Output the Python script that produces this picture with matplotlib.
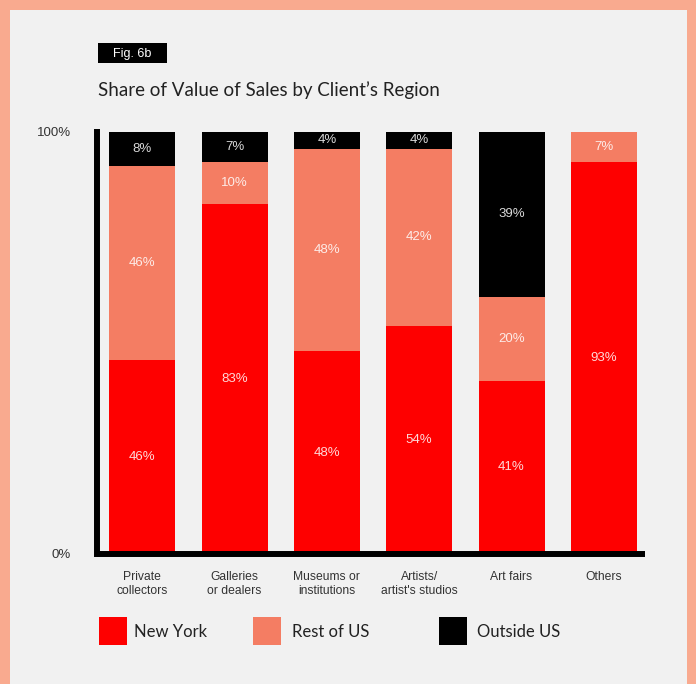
import matplotlib
matplotlib.use("Agg")
import matplotlib.pyplot as plt
from matplotlib.patches import Rectangle
import numpy as np

plt.rcParams['font.family'] = ['Lato', 'DejaVu Sans']

# data
categories = ["Private\ncollectors", "Galleries\nor dealers", "Museums or\ninstitutions",
              "Artists/\nartist's studios", "Art fairs", "Others"]
new_york = [46, 83, 48, 54, 41, 93]
rest_of_us = [46, 10, 48, 42, 20, 7]
outside_us = [8, 7, 4, 4, 39, 0]
series_names = ["New York", "Rest of US", "Outside US"]
colors = ['#FE0000', '#F47D63', '#000000']

W, H = 696, 684
fig = plt.figure(figsize=(W / 100, H / 100), dpi=100, facecolor='#F9AA8F')

# light panel behind everything
fig.patches.append(Rectangle((10 / W, 0), 677 / W, 1 - 10 / H, transform=fig.transFigure,
                             facecolor='#F1F1F1', edgecolor='none', zorder=-10))

ax = fig.add_axes([97 / W, 1 - 554 / H, (645 - 97) / W, (554 - 132) / H])
ax.set_facecolor('none')

x = np.arange(len(categories))
width = 0.715
bottom = np.zeros(len(categories))
for vals, col in zip([new_york, rest_of_us, outside_us], colors):
    vals = np.array(vals, dtype=float)
    ax.bar(x, vals, width, bottom=bottom, color=col, edgecolor='none', zorder=2)
    for xi, v, b in zip(x, vals, bottom):
        if v > 0:
            ax.text(xi, b + v / 2, f'{int(v)}%', ha='center', va='center',
                    color='white', alpha=0.85, fontsize=9.5,
                    family=['Liberation Sans', 'DejaVu Sans'], zorder=3)
    bottom += vals

ax.set_xlim(-0.49, 5.446)
ax.set_ylim(0, 100)
for s in ['top', 'right']:
    ax.spines[s].set_visible(False)
for s in ['left', 'bottom']:
    ax.spines[s].set_linewidth(4.3)
    ax.spines[s].set_color('black')
    ax.spines[s].set_zorder(4)
ax.spines['left'].set_capstyle('projecting')
ax.spines['bottom'].set_capstyle('butt')

ax.set_yticks([0, 100])
ax.set_yticklabels(['0%', '100%'], fontsize=9.5, color='#333333',
                   family=['Liberation Sans', 'DejaVu Sans'])
ax.tick_params(axis='y', length=0, pad=19)
ax.set_xticks(x)
ax.set_xticklabels(categories, fontsize=8.7, color='#333333', linespacing=1.3,
                   family=['Liberation Sans', 'DejaVu Sans'])
ax.tick_params(axis='x', length=0, pad=12)

# title block
fig.patches.append(Rectangle((98 / W, 1 - 63 / H), 69 / W, 20 / H, transform=fig.transFigure,
                             facecolor='black', edgecolor='none'))
fig.text(132 / W, 1 - 53.5 / H, 'Fig. 6b', fontsize=9, color='white', va='center', ha='center',
         family=['Liberation Sans', 'DejaVu Sans'])
fig.text(98 / W, 1 - 96 / H, "Share of Value of Sales by Client’s Region", fontsize=13.5,
         color='#222222', va='baseline', ha='left')

# legend
leg_sq = [99, 253, 439]
leg_txt = [134, 292, 477]
for sx, tx, name, col in zip(leg_sq, leg_txt, series_names, colors):
    fig.patches.append(Rectangle((sx / W, 1 - 645 / H), 28 / W, 28 / H,
                                 transform=fig.transFigure, facecolor=col, edgecolor='none'))
    fig.text(tx / W, 1 - 632 / H, name, fontsize=12, color='#222222',
             va='center', ha='left')

fig.savefig('out.png', dpi=100, facecolor=fig.get_facecolor())
